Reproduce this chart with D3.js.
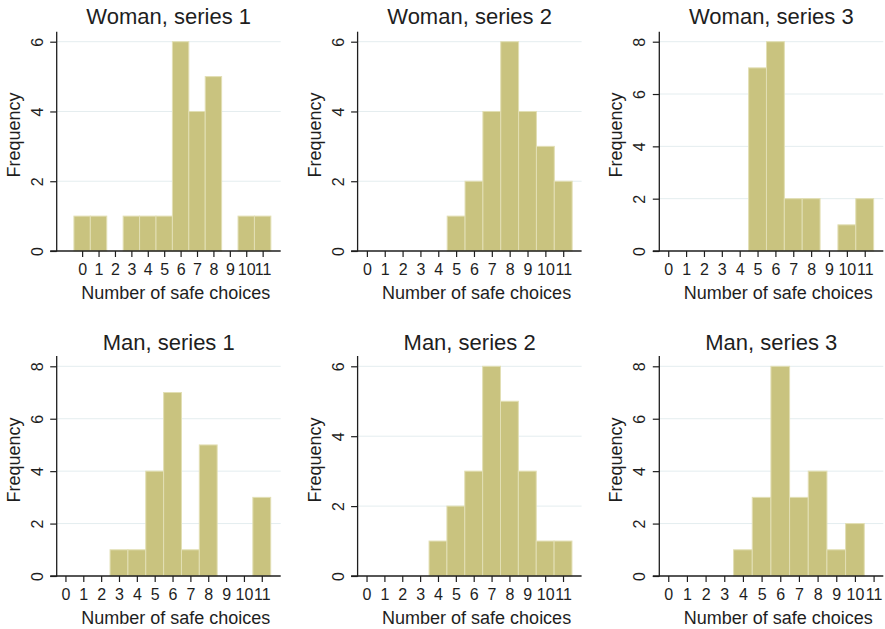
<!DOCTYPE html>
<html>
<head>
<meta charset="utf-8">
<script src="https://cdn.jsdelivr.net/npm/d3@7"></script>
<style>
    body { margin: 0; background: #fff; }
    #plot { width: 885px; height: 629px; }
</style>
</head>
<body>
<div id="plot"></div>
<script>
// number of safe choices (bins)
const choices = [0, 1, 2, 3, 4, 5, 6, 7, 8, 9, 10, 11];

// frequencies per panel
const woman1 = [1, 1, 0, 1, 1, 1, 6, 4, 5, 0, 1, 1];
const woman2 = [0, 0, 0, 0, 0, 1, 2, 4, 6, 4, 3, 2];
const woman3 = [0, 0, 0, 0, 0, 7, 8, 2, 2, 0, 1, 2];
const man1 = [0, 0, 0, 1, 1, 4, 7, 1, 5, 0, 0, 3];
const man2 = [0, 0, 0, 0, 1, 2, 3, 6, 5, 3, 1, 1];
const man3 = [0, 0, 0, 0, 1, 3, 8, 3, 4, 1, 2, 0];

const titles = ["Woman, series 1", "Woman, series 2", "Woman, series 3",
    "Man, series 1", "Man, series 2", "Man, series 3"];
const yTicksSix = [0, 2, 4, 6];
const yTicksEight = [0, 2, 4, 6, 8];

const xLabel = "Number of safe choices";
const yLabel = "Frequency";

document.addEventListener('DOMContentLoaded', function () {
    const width = 885;
    const height = 629;
    const font = "'Liberation Sans', Arial, Helvetica, sans-serif";
    const barFill = "#c9c37f";
    const barStroke = "#e2dfb4";
    const gridColor = "#e4edef";
    const inkColor = "#1e1e1e";

    const svg = d3.create("svg")
        .attr("width", width)
        .attr("height", height)
        .attr("viewBox", [0, 0, width, height])
        .style("font-family", font);

    // layout of the 2 x 3 grid
    const colLeft = [56.7, 357.6, 659.3];
    const plotW = 224;
    const rows = [
        {base: 251, top: 41.7, axisTop: 31.7, titleY: 23.5},
        {base: 576, top: 366.3, axisTop: 356, titleY: 350}
    ];

    const panels = [
        {counts: woman1, ticks: yTicksSix, xDom: [-1.55, 12.1]},
        {counts: woman2, ticks: yTicksSix, xDom: [-0.52, 12.03]},
        {counts: woman3, ticks: yTicksEight, xDom: [-0.5, 12.04]},
        {counts: man1, ticks: yTicksEight, xDom: [-0.49, 12.06]},
        {counts: man2, ticks: yTicksSix, xDom: [-0.5, 12.04]},
        {counts: man3, ticks: yTicksEight, xDom: [-0.48, 11.52]}
    ];

    panels.forEach((p, i) => {
        const row = rows[Math.floor(i / 3)];
        const left = colLeft[i % 3];
        const right = left + plotW;

        const x = d3.scaleLinear()
            .domain(p.xDom)
            .range([left, right]);

        const y = d3.scaleLinear()
            .domain([0, d3.max(p.ticks)])
            .range([row.base, row.top]);

        const g = svg.append("g");

        // gridlines
        g.append("g")
            .selectAll("line")
            .data(p.ticks.filter(t => t > 0))
            .join("line")
            .attr("x1", left)
            .attr("x2", right)
            .attr("y1", d => y(d))
            .attr("y2", d => y(d))
            .attr("stroke", gridColor)
            .attr("stroke-width", 1);

        // bars
        const bars = choices.map((c, k) => ({c, n: p.counts[k]})).filter(d => d.n > 0);
        g.append("g")
            .selectAll("rect")
            .data(bars)
            .join("rect")
            .attr("x", d => x(d.c - 0.5))
            .attr("width", d => x(d.c + 0.5) - x(d.c - 0.5))
            .attr("y", d => y(d.n))
            .attr("height", d => y(0) - y(d.n))
            .attr("fill", barFill)
            .attr("stroke", barStroke)
            .attr("stroke-width", 1);

        // y axis
        const yAxis = g.append("g")
            .attr("transform", `translate(${left},0)`)
            .call(d3.axisLeft(y).tickValues(p.ticks).tickFormat(d3.format("d")).tickSize(6.5).tickPadding(8));
        yAxis.select(".domain").remove();
        yAxis.selectAll("line").attr("stroke", inkColor).attr("stroke-width", 1.2);
        yAxis.selectAll("text")
            .attr("fill", inkColor)
            .style("font-size", "16px")
            .attr("text-anchor", "middle")
            .attr("dy", null)
            .attr("x", null)
            .attr("transform", "translate(-14,0) rotate(-90)");

        g.append("line")
            .attr("x1", left)
            .attr("x2", left)
            .attr("y1", row.axisTop)
            .attr("y2", row.base + 0.6)
            .attr("stroke", inkColor)
            .attr("stroke-width", 1.3);

        // x axis
        const xAxis = g.append("g")
            .attr("transform", `translate(0,${row.base})`)
            .call(d3.axisBottom(x).tickValues(choices).tickFormat(d3.format("d")).tickSize(6).tickPadding(7));
        xAxis.select(".domain").remove();
        xAxis.selectAll("line").attr("stroke", inkColor).attr("stroke-width", 1.2);
        xAxis.selectAll("text")
            .attr("fill", inkColor)
            .style("font-size", "16px");

        g.append("line")
            .attr("x1", left - 6.5)
            .attr("x2", right)
            .attr("y1", row.base)
            .attr("y2", row.base)
            .attr("stroke", inkColor)
            .attr("stroke-width", 1.3);

        // titles
        g.append("text")
            .attr("x", (left + right) / 2)
            .attr("y", row.titleY)
            .attr("text-anchor", "middle")
            .attr("fill", inkColor)
            .style("font-size", "22px")
            .text(titles[i]);

        g.append("text")
            .attr("x", (left + right) / 2 + 7)
            .attr("y", row.base + 48)
            .attr("text-anchor", "middle")
            .attr("fill", inkColor)
            .style("font-size", "18px")
            .text(xLabel);

        g.append("text")
            .attr("transform", `translate(${left - 37},${row.base - 116}) rotate(-90)`)
            .attr("text-anchor", "middle")
            .attr("fill", inkColor)
            .style("font-size", "18px")
            .text(yLabel);
    });

    document.getElementById("plot").appendChild(svg.node());
});
</script>
</body>
</html>
